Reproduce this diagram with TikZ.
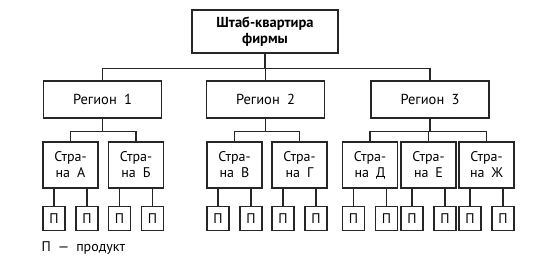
\documentclass[tikz,border=0pt]{standalone}
\usepackage{fontspec}
\setmainfont{PT Sans}
\usetikzlibrary{positioning}

\begin{document}
\begin{tikzpicture}[x=1pt, y=-1pt, line width=1.1pt, draw=black!85,
  box/.style={draw=black!85, fill=white, align=center, inner sep=0pt},
  hq/.style={box, minimum width=146pt, minimum height=43pt, font=\fontsize{14.5}{16.5}\selectfont\bfseries},
  reg/.style={box, minimum width=118pt, minimum height=37pt, font=\fontsize{14.5}{16}\selectfont},
  land/.style={box, minimum width=55pt, minimum height=46pt, font=\fontsize{14}{16}\selectfont},
  prod/.style={box, minimum width=22pt, minimum height=24pt, font=\fontsize{14}{15}\selectfont}]

\useasboundingbox (0,0) rectangle (545,266);

\node[hq] (hq) at (265, 31.5) {Штаб-квартира\\фирмы};

\node[reg] (r1) at (102.5, 99.5) {Регион\enspace 1};
\node[reg] (r2) at (265.5, 99.5) {Регион\enspace 2};
\node[reg] (r3) at (430, 99.5)   {Регион\enspace 3};

\node[land] (ca)  at (70.5, 165)  {Стра-\\на\enspace А};
\node[land] (cb)  at (136, 165)   {Стра-\\на\enspace Б};
\node[land] (cv)  at (234.5, 165) {Стра-\\на\enspace В};
\node[land] (cg)  at (299.5, 165) {Стра-\\на\enspace Г};
\node[land] (cd)  at (370, 165)   {Стра-\\на\enspace Д};
\node[land] (ce)  at (428.5, 165) {Стра-\\на\enspace Е};
\node[land] (czh) at (486.5, 165) {Стра-\\на\enspace Ж};

% headquarters to regions
\foreach \r in {r1,r2,r3}
  \draw (hq.south) -- ++(0,15) -| (\r.north);

% regions to countries
\foreach \r/\c in {r1/ca, r1/cb, r2/cv, r2/cg, r3/cd, r3/ce, r3/czh}
  \draw (\r.south) -- ++(0,12.5) -| (\c.north);

% two products under every country
\foreach \c in {ca,cb,cv,cg,cd,ce,czh} {
  \node[prod, anchor=north west] (\c1) at ([yshift=-17pt]\c.south west) {П};
  \node[prod, anchor=north east] (\c2) at ([yshift=-17pt]\c.south east) {П};
  \draw (\c1.north) -- (\c1.north |- \c.south);
  \draw (\c2.north) -- (\c2.north |- \c.south);
}

\node[anchor=west, inner sep=0pt, font=\fontsize{14}{15}\selectfont] (key) at (41, 248) {П\enspace —\enspace продукт};

\end{tikzpicture}
\end{document}
